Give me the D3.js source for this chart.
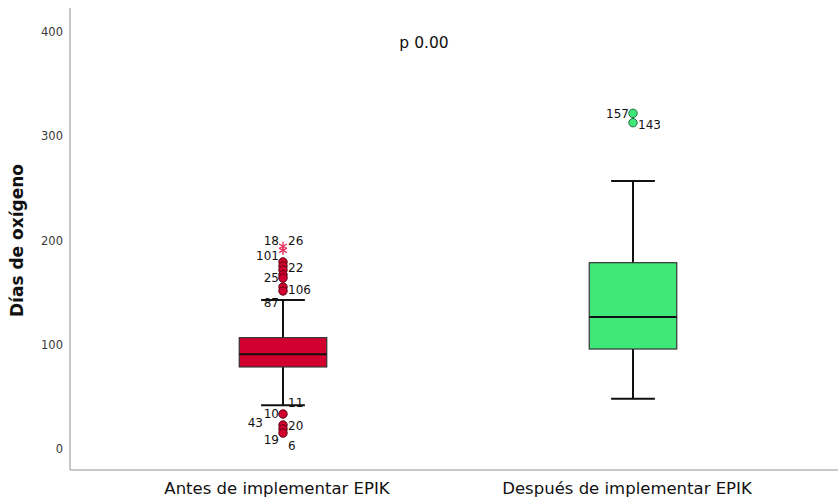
<!DOCTYPE html>
<html><head><meta charset="utf-8">
<script src="https://cdn.jsdelivr.net/npm/d3@7/dist/d3.min.js"></script>
<style>body{margin:0;background:#fff}svg{display:block}</style>
</head><body>
<svg id="c" width="838" height="500"></svg>
<script>
const categories = ["Antes de implementar EPIK", "Después de implementar EPIK"];
const whiskerLow = [41.9, 48.3];
const q1 = [78.7, 95.9];
const median = [90.8, 126.6];
const q3 = [106.8, 178.7];
const whiskerHigh = [142.9, 257];
const boxColors = ["#d2002e", "#40e87a"];
const yTicks = [0, 100, 200, 300, 400];
const pLabel = "p 0.00";
const yTitle = "Días de oxígeno";

// outliers: group index, value, kind
const outGroup = [0,0, 0,0,0,0,0,0,0, 0,0,0,0, 1,1];
const outValue = [194.5,190.5, 179.4,175.5,171.7,167.2,164.0,155.4,151.6, 33.6,23.0,19.2,15.3, 322,313];
const outKind  = ["star","star","c","c","c","c","c","c","c","c","c","c","c","c","c"];
// case labels
const labGroup = [0,0,0,0,0,0,0, 0,0,0,0,0,0, 1,1];
const labText  = ["18","26","101","22","25","106","87","11","10","43","20","19","6","157","143"];
const labValue = [199.5,199.5,185,174,164,152.5,140,44.5,33.6,25,22.0,8.5,3.5,322,311];
const labSide  = ["L","R","L","R","L","R","L","R","L","L2","R","L","R","L","R"];

const svg = d3.select("#c");
const x = d3.scaleBand().domain(categories).range([108, 808]).padding(0);
const y = d3.scaleLinear().domain([0, 400]).range([449, 32]);
const bw = x.bandwidth() * 0.25;
const cx = i => x(categories[i]) + x.bandwidth() / 2;

// axes
svg.append("line").attr("x1", 70).attr("x2", 70).attr("y1", y(423)).attr("y2", y(-20.2))
  .attr("stroke", "#b4b4b4").attr("stroke-width", 1.5);
svg.append("line").attr("x1", 70).attr("x2", 838).attr("y1", y(-20.2)).attr("y2", y(-20.2))
  .attr("stroke", "#b4b4b4").attr("stroke-width", 1.5);

svg.append("g").selectAll("text").data(yTicks).join("text")
  .attr("x", 63).attr("y", d => y(d)).attr("dy", "0.35em").attr("text-anchor", "end")
  .attr("font-family", "DejaVu Sans, sans-serif").attr("font-size", 11.5).attr("fill", "#3a3a3a")
  .text(d => d);

svg.append("text").attr("transform", `translate(23,${y(200)}) rotate(-90)`)
  .attr("text-anchor", "middle").attr("font-family", "DejaVu Sans, sans-serif")
  .attr("font-weight", "bold").attr("font-size", 17).attr("fill", "#111").text(yTitle);

svg.append("g").selectAll("text").data(categories).join("text")
  .attr("x", (d, i) => cx(i) - 6).attr("y", 494).attr("text-anchor", "middle")
  .attr("font-family", "DejaVu Sans, sans-serif").attr("font-size", 16.5).attr("fill", "#111")
  .text(d => d);

svg.append("text").attr("x", 424).attr("y", 48).attr("text-anchor", "middle")
  .attr("font-family", "DejaVu Sans, sans-serif").attr("font-size", 15.5).attr("fill", "#111").text(pLabel);

// boxes
const g = svg.append("g");
categories.forEach((c, i) => {
  const xc = cx(i);
  g.append("line").attr("x1", xc).attr("x2", xc).attr("y1", y(whiskerHigh[i])).attr("y2", y(q3[i]))
    .attr("stroke", "#111").attr("stroke-width", 2);
  g.append("line").attr("x1", xc).attr("x2", xc).attr("y1", y(q1[i])).attr("y2", y(whiskerLow[i]))
    .attr("stroke", "#111").attr("stroke-width", 2);
  [whiskerHigh[i], whiskerLow[i]].forEach(v => {
    g.append("line").attr("x1", xc - bw / 4).attr("x2", xc + bw / 4).attr("y1", y(v)).attr("y2", y(v))
      .attr("stroke", "#111").attr("stroke-width", 2);
  });
  g.append("rect").attr("x", xc - bw / 2).attr("width", bw).attr("y", y(q3[i])).attr("height", y(q1[i]) - y(q3[i]))
    .attr("fill", boxColors[i]).attr("stroke", "#333").attr("stroke-width", 1.2);
  g.append("line").attr("x1", xc - bw / 2).attr("x2", xc + bw / 2).attr("y1", y(median[i])).attr("y2", y(median[i]))
    .attr("stroke", "#111").attr("stroke-width", 2);
});

// outliers
outValue.forEach((v, k) => {
  const i = outGroup[k], xc = cx(i), yy = y(v);
  if (outKind[k] === "c") {
    g.append("circle").attr("cx", xc).attr("cy", yy).attr("r", 4.2)
      .attr("fill", boxColors[i]).attr("stroke", i === 0 ? "#5a0010" : "#1c6b3a").attr("stroke-width", 1);
  } else if (outKind[k] === "star") {
    const s = 4.5, col = "#e8325e";
    [0, 60, 120].forEach(a => {
      const r = a * Math.PI / 180;
      g.append("line").attr("x1", xc - s * Math.sin(r)).attr("x2", xc + s * Math.sin(r))
        .attr("y1", yy - s * Math.cos(r)).attr("y2", yy + s * Math.cos(r))
        .attr("stroke", col).attr("stroke-width", 1.4);
    });
  }
});

// case labels
labText.forEach((t, k) => {
  const i = labGroup[k], xc = cx(i);
  const side = labSide[k];
  const xx = side === "R" ? xc + 5 : (side === "L2" ? xc - 20 : xc - 4);
  g.append("text").attr("x", xx).attr("y", y(labValue[k])).attr("dy", "0.35em")
    .attr("text-anchor", side === "R" ? "start" : "end")
    .attr("font-family", "DejaVu Sans, sans-serif").attr("font-size", 12).attr("fill", "#111").text(t);
});
</script>
</body></html>
